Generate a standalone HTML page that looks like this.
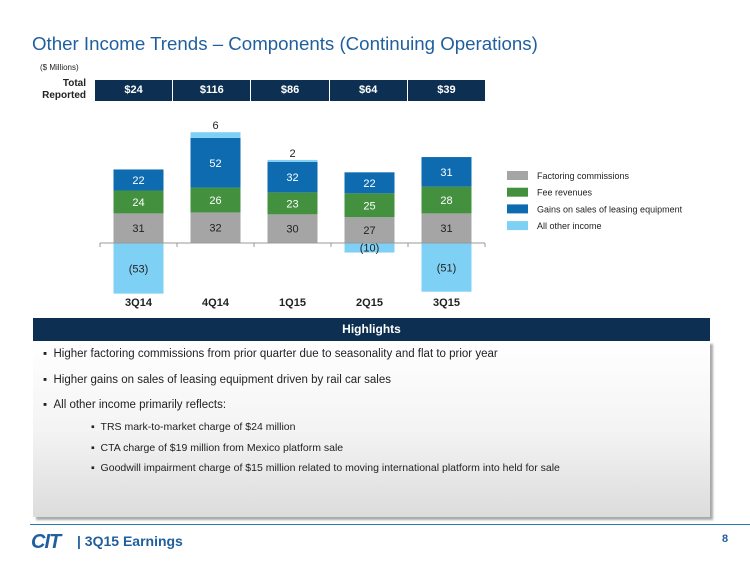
<!DOCTYPE html>
<html><head><meta charset="utf-8"><style>
body{margin:0;width:750px;height:563px;background:#fff;font-family:"Liberation Sans",Arial,sans-serif;position:relative;overflow:hidden}
.a{position:absolute}
</style></head><body>
<div class="a" style="left:32px;top:33px;font-size:18.7px;color:#1f5f9e">Other Income Trends – Components (Continuing Operations)</div>
<div class="a" style="left:40px;top:63px;font-size:8px;color:#222">($ Millions)</div>
<div class="a" style="left:30px;top:78px;width:56px;text-align:right;font-size:10px;font-weight:bold;color:#222;line-height:12px">Total<br>Reported</div>
<div id="totals" class="a" style="left:95px;top:80px;width:390px;height:21px;display:flex;background:#0c2f52"></div>
<svg id="chart" class="a" style="left:0;top:0" width="750" height="320"></svg>
<div class="a" style="left:33px;top:318px;width:677px;height:23px;background:#0c2f52;color:#fff;font-size:12px;font-weight:bold;text-align:center;line-height:23px">Highlights</div>
<div class="a" style="left:33px;top:341px;width:677px;height:176px;background:linear-gradient(#fff 0%,#f4f4f4 50%,#dcdcdc 100%);box-shadow:3px 3px 2px #aaa;font-size:11.5px;color:#222">
<div class="a" style="left:10px;top:7px">▪&nbsp;&nbsp;Higher factoring commissions from prior quarter due to seasonality and flat to prior year</div>
<div class="a" style="left:10px;top:33px">▪&nbsp;&nbsp;Higher gains on sales of leasing equipment driven by rail car sales</div>
<div class="a" style="left:10px;top:58px">▪&nbsp;&nbsp;All other income primarily reflects:</div>
<div class="a" style="left:58px;top:80px;font-size:10.5px">▪&nbsp;&nbsp;TRS mark-to-market charge of $24 million</div>
<div class="a" style="left:58px;top:101px;font-size:10.5px">▪&nbsp;&nbsp;CTA charge of $19 million from Mexico platform sale</div>
<div class="a" style="left:58px;top:121px;font-size:10.5px">▪&nbsp;&nbsp;Goodwill impairment charge of $15 million related to moving international platform into held for sale</div>
</div>
<div class="a" style="left:30px;top:524px;width:720px;height:1px;background:#2a7ab0"></div>
<div class="a" style="left:31px;top:531px;font-size:20px;font-weight:900;color:#1f5f9e;letter-spacing:-1px;font-style:italic">CIT</div>
<div class="a" style="left:77px;top:533px;font-size:14px;font-weight:bold;color:#1f5f9e">| 3Q15 Earnings</div>
<div class="a" style="left:722px;top:533px;font-size:11px;font-weight:bold;color:#1f5f9e">8</div>
<script>
const categories=["3Q14","4Q14","1Q15","2Q15","3Q15"];
const totals=["$24","$116","$86","$64","$39"];
const factoring=[31,32,30,27,31];
const fees=[24,26,23,25,28];
const gains=[22,52,32,22,31];
const other=[-53,6,2,-10,-51];
const seriesNames=["Factoring commissions","Fee revenues","Gains on sales of leasing equipment","All other income"];
const colors=["#a5a5a5","#43913f","#0e6bb0","#7fd0f5"];
const NS="http://www.w3.org/2000/svg";
const svg=document.getElementById('chart');
const y0=243,k=0.955,x0=100,step=77,bw=50;
const yPos=v=>y0-v*k;
const xC=i=>x0+step*i+step/2;
function mk(t,a){const e=document.createElementNS(NS,t);for(const q in a)e.setAttribute(q,a[q]);svg.appendChild(e);return e;}
const T=document.getElementById('totals');
totals.forEach((t,i)=>{const d=document.createElement('div');


d.style.cssText='flex:1;color:#fff;font-size:11px;font-weight:bold;text-align:center;line-height:21px;border-left:'+(i?'1px solid #fff':'none');d.textContent=t;T.appendChild(d);});
const series=[factoring,fees,gains];
categories.forEach((c,i)=>{
 let base=0;const x=xC(i)-bw/2;
 series.forEach((s,j)=>{
  const r=mk('rect',{x:x,y:yPos(base+s[i]),width:bw,height:s[i]*k,fill:colors[j]});
  
  
  const t=mk('text',{x:xC(i),y:yPos(base+s[i]/2)+4,'text-anchor':'middle','font-size':11,fill:j==0?'#222':'#fff'});t.textContent=s[i];
  
  
  base+=s[i];
 });
 const o=other[i];
 const top=o>=0?yPos(base+o):y0;
 const r=mk('rect',{x:x,y:top,width:bw,height:Math.abs(o)*k,fill:colors[3]});
 
 
 const t=mk('text',{x:xC(i),'text-anchor':'middle','font-size':11,fill:'#222'});
 if(o>=0){t.setAttribute('y',top-3);t.textContent=o;}
 else{t.setAttribute('y',Math.abs(o)>20?y0+Math.abs(o)*k/2+4:y0+Math.abs(o)*k-1);t.textContent='('+(-o)+')';}
 
 
 const l=mk('text',{x:xC(i),y:306,'text-anchor':'middle','font-size':11,'font-weight':'bold',fill:'#222'});l.textContent=c;
 
 
});
const ax=mk('line',{x1:x0,x2:x0+step*5,y1:y0,y2:y0,stroke:'#999'});


for(let i=0;i<=5;i++){const tk=mk('line',{x1:x0+step*i,x2:x0+step*i,y1:y0,y2:y0+4,stroke:'#999'});

}
seriesNames.forEach((n,j)=>{const yy=176+j*16.7;
 const r=mk('rect',{x:507,y:yy-5,width:21,height:9,fill:colors[j]});
 
 
 const t=mk('text',{x:537,y:yy+3,'font-size':9,fill:'#222'});t.textContent=n;
 
 });
</script>
</body></html>
